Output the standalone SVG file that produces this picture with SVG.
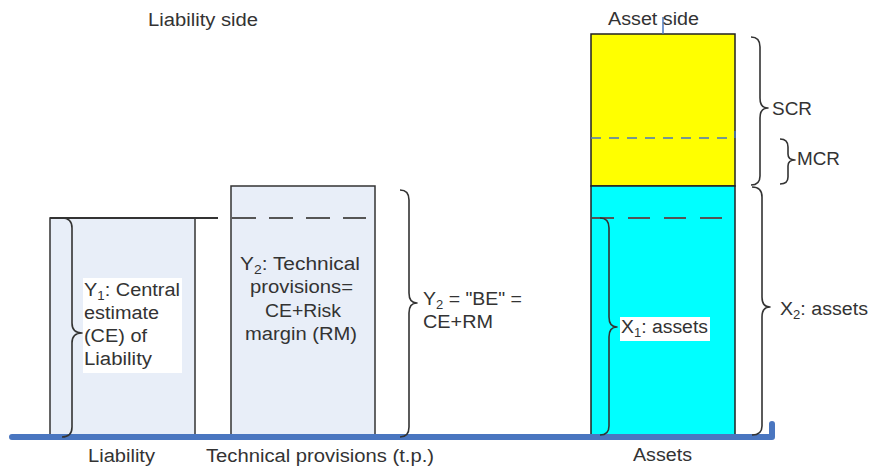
<svg xmlns="http://www.w3.org/2000/svg" width="872" height="468" viewBox="0 0 872 468">
<style>
  text { font-family: "Liberation Sans", Arial, sans-serif; font-size: 18px; fill: #333; }
  .box { fill: #E8EEF8; stroke: #333; stroke-width: 1.5; }
  .brace { fill: none; stroke: #333; stroke-width: 1.6; stroke-linejoin: round; }
  .gdash { stroke: #555; stroke-width: 2; fill: none; }
  .sub { font-size: 12px; }
</style>
<rect width="872" height="468" fill="#fff"/>

<g id="liability-box">
  <rect class="box" x="50" y="218" width="145" height="219"/>
  <line x1="50" y1="218" x2="218" y2="218" stroke="#333" stroke-width="2"/>
  <rect x="83" y="278" width="99" height="95" fill="#fff"/>
  <text x="84" y="296" textLength="96" lengthAdjust="spacingAndGlyphs">Y<tspan class="sub" dy="4">1</tspan><tspan dy="-4">: Central</tspan></text>
  <text x="84" y="319" textLength="75" lengthAdjust="spacingAndGlyphs">estimate</text>
  <text x="84" y="342" textLength="63" lengthAdjust="spacingAndGlyphs">(CE) of</text>
  <text x="84" y="365" textLength="68" lengthAdjust="spacingAndGlyphs">Liability</text>
</g>

<g id="tp-box">
  <rect class="box" x="231" y="186" width="144" height="251"/>
  <line class="gdash" x1="232" y1="218" x2="366" y2="218" stroke-dasharray="24 13"/>
  <text x="240" y="270" textLength="120" lengthAdjust="spacingAndGlyphs">Y<tspan class="sub" dy="4">2</tspan><tspan dy="-4">: Technical</tspan></text>
  <text x="250" y="293" textLength="103" lengthAdjust="spacingAndGlyphs">provisions=</text>
  <text x="265" y="317" textLength="76" lengthAdjust="spacingAndGlyphs">CE+Risk</text>
  <text x="245" y="340" textLength="112" lengthAdjust="spacingAndGlyphs">margin (RM)</text>
</g>

<g id="asset-box">
  <rect x="591" y="34" width="144" height="152" fill="#FFFF00" stroke="#222" stroke-width="1.5"/>
  <rect x="591" y="186" width="144" height="251" fill="#00FFFF" stroke="#222" stroke-width="1.5"/>
  <line x1="591" y1="138" x2="735" y2="138" stroke="#4A76C0" stroke-width="1.5" stroke-dasharray="10 8"/>
  <line x1="735" y1="131" x2="735" y2="138" stroke="#4A76C0" stroke-width="1.5"/>
  <line class="gdash" x1="592" y1="218" x2="726" y2="218" stroke-dasharray="22 14"/>
  <line x1="663" y1="17" x2="663" y2="34" stroke="#4A76C0" stroke-width="1.5"/>
  <rect x="620" y="317" width="90" height="24" fill="#fff"/>
  <text x="621" y="333" textLength="87" lengthAdjust="spacingAndGlyphs">X<tspan class="sub" dy="4">1</tspan><tspan dy="-4">: assets</tspan></text>
</g>

<g id="connectors">
  <path d="M12,437 H772 V424" fill="none" stroke="#4A76C0" stroke-width="6" stroke-linecap="round" stroke-linejoin="round"/>
  <!-- Y1 brace -->
  <path class="brace" d="M62,218 Q72,218 72,228 V323 Q72,333 82,333 Q72,333 72,343 V427 Q72,437 62,437"/>
  <!-- Y2 brace -->
  <path class="brace" d="M400,190 Q409,190 409,200 V293 Q409,303 417,303 Q409,303 409,313 V427 Q409,437 400,437"/>
  <!-- SCR brace -->
  <path class="brace" d="M751,37 Q760,37 760,47 V98 Q760,108 768,108 Q760,108 760,118 V176 Q760,185 751,185"/>
  <!-- MCR brace -->
  <path class="brace" d="M780,139 Q788,139 788,147 V154 Q788,160 795,160 Q788,160 788,166 V177 Q788,184 780,184"/>
  <!-- X2 brace -->
  <path class="brace" d="M752,187 Q762,187 762,197 V297 Q762,307 770,307 Q762,307 762,317 V426 Q762,435 752,435"/>
  <!-- X1 brace -->
  <path class="brace" d="M600,218 Q609,218 609,228 V317 Q609,327 617,327 Q609,327 609,337 V426 Q609,435 600,435"/>
</g>

<g id="labels">
  <text x="148" y="26" textLength="110" lengthAdjust="spacingAndGlyphs">Liability side</text>
  <text x="608" y="25" textLength="91" lengthAdjust="spacingAndGlyphs">Asset side</text>
  <text x="423" y="305" textLength="99" lengthAdjust="spacingAndGlyphs">Y<tspan class="sub" dy="4">2</tspan><tspan dy="-4"> = "BE" =</tspan></text>
  <text x="423" y="328" textLength="70" lengthAdjust="spacingAndGlyphs">CE+RM</text>
  <text x="772" y="115" textLength="40" lengthAdjust="spacingAndGlyphs">SCR</text>
  <text x="797" y="165" textLength="43" lengthAdjust="spacingAndGlyphs">MCR</text>
  <text x="780" y="315" textLength="88" lengthAdjust="spacingAndGlyphs">X<tspan class="sub" dy="4">2</tspan><tspan dy="-4">: assets</tspan></text>
  <text x="88" y="462" textLength="67" lengthAdjust="spacingAndGlyphs">Liability</text>
  <text x="206" y="462" textLength="228" lengthAdjust="spacingAndGlyphs">Technical provisions (t.p.)</text>
  <text x="633" y="461" textLength="59" lengthAdjust="spacingAndGlyphs">Assets</text>
</g>
</svg>
